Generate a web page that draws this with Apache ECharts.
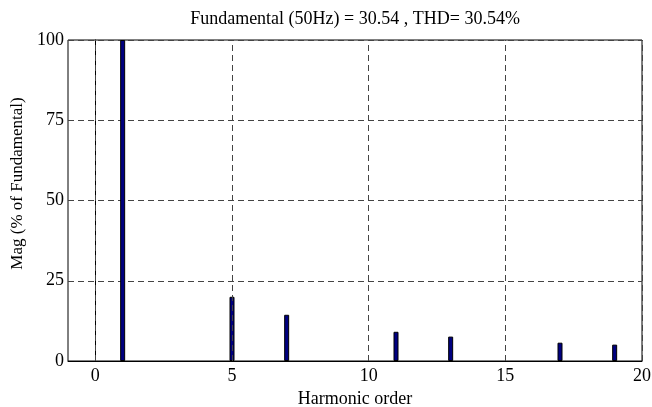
<!DOCTYPE html>
<html>
<head>
<meta charset="utf-8">
<script src="https://cdn.jsdelivr.net/npm/echarts@6/dist/echarts.min.js"></script>
<style>html,body{margin:0;padding:0;background:#fff}#c{width:652px;height:407px}</style>
</head>
<body>
<div id="c"></div>
<script>
const harmonicOrders = [1, 5, 7, 11, 13, 17, 19];
const magnitudes = [100, 20, 14.4, 9.1, 7.6, 5.7, 5.1];
const xTickLabels = [0, 5, 10, 15, 20];
const yTickLabels = [0, 25, 50, 75, 100];
const titleText = 'Fundamental (50Hz) = 30.54 , THD= 30.54%';

const font = 'Liberation Serif, Times New Roman, serif';
const chart = echarts.init(document.getElementById('c'), null, {renderer: 'canvas'});
chart.setOption({
  animation: false,
  backgroundColor: '#fff',
  title: {
    text: titleText, left: 350, textAlign: 'center', top: 5,
    textStyle: {fontFamily: font, fontSize: 18, fontWeight: 'normal', color: '#000'}
  },
  grid: {left: 68, right: 10, top: 40, bottom: 46, show: true, borderColor: '#000', borderWidth: 1,
    containLabel: false, outerBoundsMode: 'none'},
  xAxis: {
    type: 'value', min: -1, max: 20, interval: 1,
    name: 'Harmonic order', nameLocation: 'middle', nameGap: 28,
    nameTextStyle: {fontFamily: font, fontSize: 18, color: '#000'},
    axisLine: {show: true, onZero: false, lineStyle: {color: '#000', width: 1}},
    axisTick: {show: false},
    axisLabel: {
      margin: 6, fontFamily: font, fontSize: 18, color: '#000',
      formatter: v => (xTickLabels.indexOf(v) >= 0 ? String(v) : '')
    },
    splitLine: {show: false}
  },
  yAxis: {
    type: 'value', min: 0, max: 100, interval: 25,
    name: 'Mag (% of Fundamental)', nameLocation: 'middle', nameGap: 41,
    nameTextStyle: {fontFamily: font, fontSize: 17, color: '#000', padding: [0, 0, 0, 34]},
    axisLine: {show: true, lineStyle: {color: '#000', width: 1}},
    axisTick: {show: false},
    axisLabel: {margin: 4, fontFamily: font, fontSize: 18, color: '#000',
      formatter: v => (yTickLabels.indexOf(v) >= 0 ? String(v) : '')},
    splitLine: {show: true, lineStyle: {color: '#444', type: [6, 4], width: 1}}
  },
  series: [{
    type: 'bar',
    data: harmonicOrders.map((h, i) => [h, magnitudes[i]]),
    barWidth: 5,
    itemStyle: {color: '#000080', borderColor: '#000', borderWidth: 1},
    markLine: {
      silent: true, symbol: 'none', label: {show: false},
      lineStyle: {color: '#444', type: [6, 4], width: 1},
      data: xTickLabels.map(v => ({xAxis: v}))
    }
  }]
});
</script>
</body>
</html>
